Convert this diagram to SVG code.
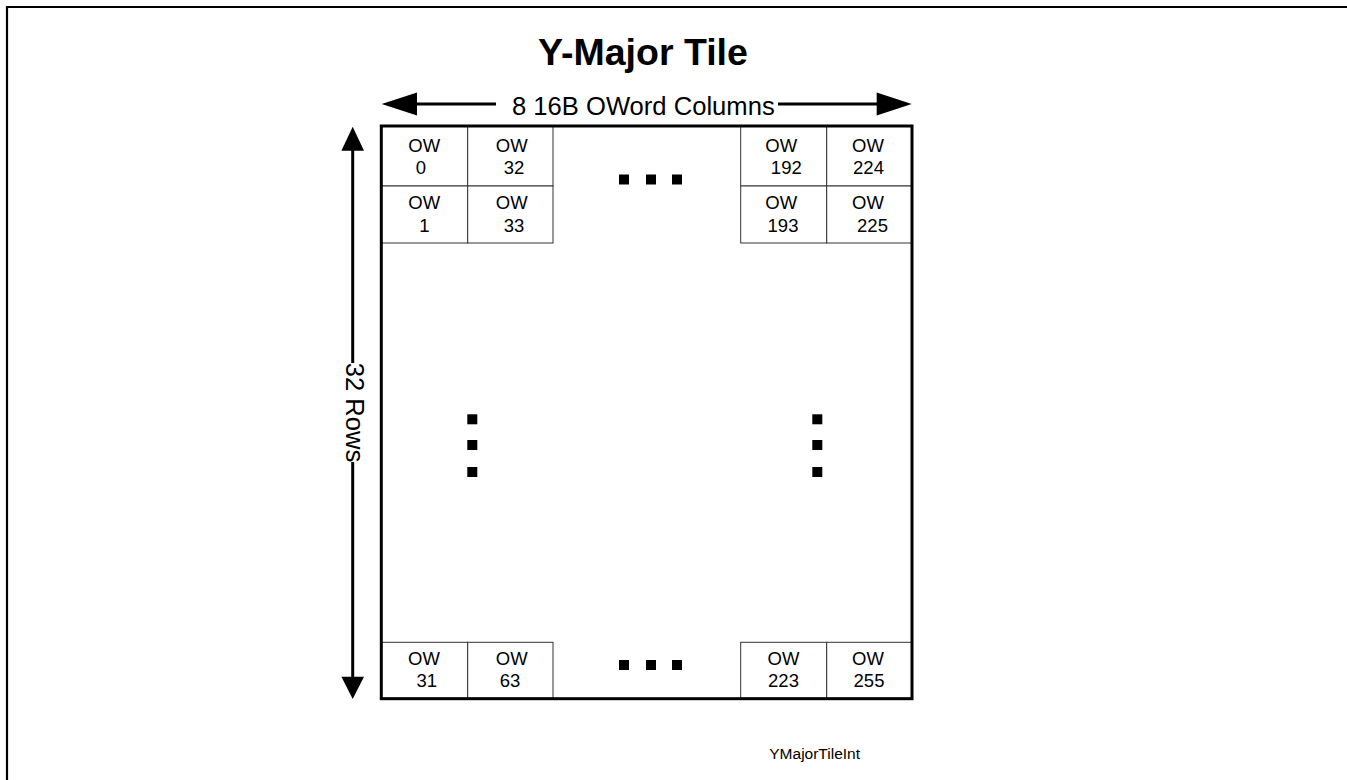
<svg xmlns="http://www.w3.org/2000/svg" width="1347" height="780" viewBox="0 0 1347 780">
<style>
.cell{fill:#fff;stroke:#333;stroke-width:1}
.t{font-family:"Liberation Sans",Arial,sans-serif;font-size:18.5px;fill:#000;text-anchor:middle}
.lbl{font-family:"Liberation Sans",Arial,sans-serif;font-size:25.6px;fill:#000}
.ln{stroke:#000;stroke-width:3;fill:none}
.dot{fill:#000}
</style>
<rect width="1347" height="780" fill="#fff"/>
<path d="M7,790 V7 H1360" fill="none" stroke="#000" stroke-width="2.2"/>
<text x="643" y="65" font-family="Liberation Sans,Arial,sans-serif" font-size="37.5" font-weight="bold" text-anchor="middle">Y-Major Tile</text>
<g id="cells">
<g id="ow0"><rect class="cell" x="381" y="126" width="86.7" height="60"/><text class="t" x="424.3" y="151.7">OW</text><text class="t" x="421" y="174.3">0</text></g>
<g id="ow32"><rect class="cell" x="467.7" y="126" width="85.3" height="60"/><text class="t" x="511.7" y="151.7">OW</text><text class="t" x="514" y="174.3">32</text></g>
<g id="ow1"><rect class="cell" x="381" y="186" width="86.7" height="57"/><text class="t" x="424.3" y="209.3">OW</text><text class="t" x="424.3" y="231.7">1</text></g>
<g id="ow33"><rect class="cell" x="467.7" y="186" width="85.3" height="57"/><text class="t" x="511.7" y="209.3">OW</text><text class="t" x="514" y="231.7">33</text></g>
<g id="ow192"><rect class="cell" x="740.7" y="126" width="86" height="60"/><text class="t" x="781.3" y="151.7">OW</text><text class="t" x="786.3" y="174.3">192</text></g>
<g id="ow224"><rect class="cell" x="826.7" y="126" width="85.3" height="60"/><text class="t" x="868" y="151.7">OW</text><text class="t" x="868.5" y="174.3">224</text></g>
<g id="ow193"><rect class="cell" x="740.7" y="186" width="86" height="57"/><text class="t" x="781.3" y="209.3">OW</text><text class="t" x="783" y="231.7">193</text></g>
<g id="ow225"><rect class="cell" x="826.7" y="186" width="85.3" height="57"/><text class="t" x="868" y="209.3">OW</text><text class="t" x="872.5" y="231.7">225</text></g>
<g id="ow31"><rect class="cell" x="381" y="642.3" width="86.7" height="56"/><text class="t" x="424" y="665">OW</text><text class="t" x="426.7" y="687">31</text></g>
<g id="ow63"><rect class="cell" x="467.7" y="642.3" width="85.3" height="56"/><text class="t" x="511.7" y="665">OW</text><text class="t" x="510" y="687">63</text></g>
<g id="ow223"><rect class="cell" x="740.7" y="642.3" width="86" height="56"/><text class="t" x="783.5" y="665">OW</text><text class="t" x="783.5" y="687">223</text></g>
<g id="ow255"><rect class="cell" x="826.7" y="642.3" width="85.3" height="56"/><text class="t" x="868" y="665">OW</text><text class="t" x="869" y="687">255</text></g>
</g>
<rect id="tile" x="381.3" y="126" width="530.7" height="572.7" fill="none" stroke="#000" stroke-width="3"/>
<g id="dots">
<rect class="dot" x="619" y="174.5" width="10" height="10"/>
<rect class="dot" x="646" y="174.5" width="10" height="10"/>
<rect class="dot" x="672" y="174.5" width="10" height="10"/>
<rect class="dot" x="619" y="660" width="10" height="10"/>
<rect class="dot" x="646" y="660" width="10" height="10"/>
<rect class="dot" x="672" y="660" width="10" height="10"/>
<rect class="dot" x="467.3" y="414.3" width="10" height="10"/>
<rect class="dot" x="467.3" y="440" width="10" height="10"/>
<rect class="dot" x="467.3" y="467" width="10" height="10"/>
<rect class="dot" x="812.3" y="414.3" width="10" height="10"/>
<rect class="dot" x="812.3" y="440" width="10" height="10"/>
<rect class="dot" x="812.3" y="467" width="10" height="10"/>
</g>
<g id="connectors">
<line class="ln" x1="415" y1="104" x2="496" y2="104"/>
<line class="ln" x1="778" y1="104" x2="879" y2="104"/>
<polygon points="381.7,104 417,92.5 417,115.5"/>
<polygon points="911.7,104 876.7,92.5 876.7,115.5"/>
<line class="ln" x1="352.7" y1="148" x2="352.7" y2="363"/>
<line class="ln" x1="352.7" y1="462" x2="352.7" y2="678"/>
<polygon points="352.7,126.7 341.4,150.7 364,150.7"/>
<polygon points="352.7,699 341.4,676.7 364,676.7"/>
</g>
<text class="lbl" x="512" y="114.5">8 16B OWord Columns</text>
<text class="lbl" transform="translate(346,412.5) rotate(90)" text-anchor="middle">32 Rows</text>
<text x="860" y="759" font-family="Liberation Sans,Arial,sans-serif" font-size="15.5" text-anchor="end">YMajorTileInt</text>
</svg>
